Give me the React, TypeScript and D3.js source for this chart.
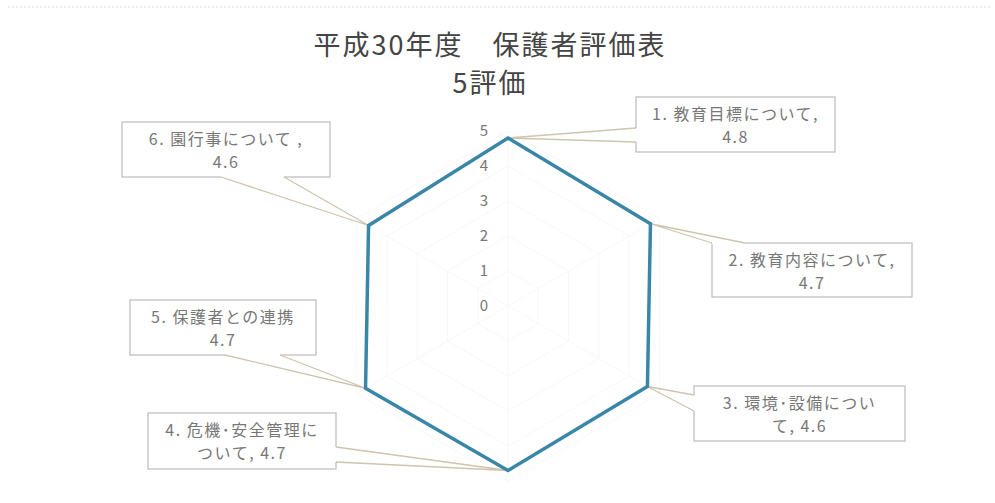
import React from "react";
import * as d3 from "d3";

const categories = [
  "1. 教育目標について,",
  "2. 教育内容について,",
  "3. 環境･設備につい",
  "4. 危機･安全管理に",
  "5. 保護者との連携",
  "6. 園行事について ,",
];
const labelSecondLines = ["4.8", "4.7", "て, 4.6", "ついて, 4.7", "4.7", "4.6"];
const values = [4.8, 4.7, 4.6, 4.7, 4.7, 4.6];
const axisTicks = [0, 1, 2, 3, 4, 5];
const titleLines = ["平成30年度　保護者評価表", "5評価"];

// layout of callout boxes and their wedge attachment points
const boxes = [
  { x: 636, y: 97, w: 199, h: 55, a: [[636, 128], [636, 142]] },
  { x: 712, y: 243, w: 200, h: 54, a: [[712, 243], [745, 243]] },
  { x: 694, y: 386, w: 211, h: 55, a: [[694, 395], [694, 411]] },
  { x: 148, y: 413, w: 188, h: 56, a: [[336, 447], [336, 462]] },
  { x: 130, y: 300, w: 186, h: 55, a: [[225, 355], [280, 355]] },
  { x: 122, y: 122, w: 208, h: 55, a: [[221, 177], [284, 177]] },
];

export default function App() {
  const W = 995, H = 503;
  const cx = 508, cy = 306;
  const r = d3.scaleLinear().domain([0, 5]).range([0, 175]);
  const ang = (i: number) => (i * 2 * Math.PI) / categories.length;
  const pt = (i: number, v: number): [number, number] => [
    cx + r(v) * Math.sin(ang(i)),
    cy - r(v) * Math.cos(ang(i)),
  ];
  const line = d3
    .lineRadial<number>()
    .angle((_, i) => ang(i))
    .radius((d) => r(d))
    .curve(d3.curveLinearClosed);
  const font = "'Noto Sans CJK JP', 'Noto Sans', sans-serif";

  return (
    <svg width={W} height={H} style={{ position: "absolute", left: 0, top: 0, background: "#fff" }}>
      <line x1={8} x2={990} y1={7} y2={7} stroke="#ddd" strokeDasharray="2 2" />
      <text x={490} y={55} textAnchor="middle" fontSize={27} letterSpacing={2} fill="#444" fontFamily={font}>
        {titleLines[0]}
      </text>
      <text x={490} y={93} textAnchor="middle" fontSize={27} letterSpacing={2} fill="#444" fontFamily={font}>
        {titleLines[1]}
      </text>
      {/* grid */}
      {axisTicks.slice(1).map((t) => (
        <polygon
          key={t}
          points={categories.map((_, i) => pt(i, t).join(",")).join(" ")}
          fill="none"
          stroke="#f8f8f8"
        />
      ))}
      {categories.map((_, i) => {
        const [x, y] = pt(i, 5);
        return <line key={i} x1={cx} y1={cy} x2={x} y2={y} stroke="#f8f8f8" />;
      })}
      {axisTicks.map((t) => (
        <text key={t} x={484} y={cy - r(t) + 5} textAnchor="middle" fontSize={15} fill="#777" fontFamily={font}>
          {t}
        </text>
      ))}
      {boxes.map((b, i) => (
        <g key={i}>
          <rect x={b.x} y={b.y} width={b.w} height={b.h} fill="#fff" stroke="#bbb" strokeWidth={1.2} />
          <line x1={b.a[0][0]} y1={b.a[0][1]} x2={b.a[1][0]} y2={b.a[1][1]} stroke="#fff" strokeWidth={2.5} />
          <text x={b.x + b.w / 2} y={b.y + 23} textAnchor="middle" fontSize={16} letterSpacing={1.5} fill="#777" fontFamily={font}>
            {categories[i]}
          </text>
          <text x={b.x + b.w / 2} y={b.y + 46} textAnchor="middle" fontSize={16} letterSpacing={1.5} fill="#777" fontFamily={font}>
            {labelSecondLines[i]}
          </text>
        </g>
      ))}
      {/* callout wedges */}
      {values.map((v, i) => {
        const [x, y] = pt(i, v);
        const b = boxes[i];
        return (
          <polyline
            key={i}
            points={`${b.a[0][0]},${b.a[0][1]} ${x},${y} ${b.a[1][0]},${b.a[1][1]}`}
            fill="none"
            stroke="#cfc4ae"
            strokeWidth={1.3}
          />
        );
      })}
      <path
        d={line(values) || ""}
        transform={`translate(${cx},${cy})`}
        fill="none"
        stroke="#3a86a8"
        strokeWidth={3.5}
        strokeLinejoin="miter"
      />
    </svg>
  );
}
